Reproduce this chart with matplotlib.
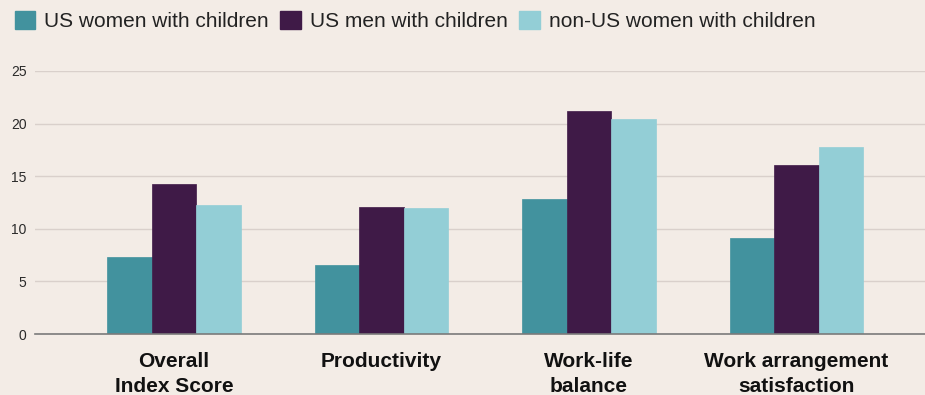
import matplotlib
matplotlib.use("Agg")
import matplotlib.pyplot as plt
import numpy as np
from matplotlib.patches import Patch

# Data
categories = ["Overall\nIndex Score", "Productivity", "Work-life\nbalance", "Work arrangement\nsatisfaction"]
series_names = ["US women with children", "US men with children", "non-US women with children"]
us_women = [7.3, 6.6, 12.8, 9.1]
us_men = [14.3, 12.1, 21.2, 16.1]
non_us_women = [12.3, 12.0, 20.4, 17.8]
yticks = [0, 5, 10, 15, 20, 25]

BG = "#F3ECE6"
COLORS = ["#42929E", "#3F1A47", "#93CED6"]

plt.rcParams['font.family'] = ['Liberation Sans', 'DejaVu Sans']

fig = plt.figure(figsize=(9.25, 3.95), dpi=100, facecolor=BG)
ax = fig.add_axes([35 / 925, 1 - 334 / 395, 890 / 925, 263 / 395])
ax.set_facecolor(BG)

x = np.arange(len(categories))
w = 0.2145
for i, (vals, col) in enumerate(zip([us_women, us_men, non_us_women], COLORS)):
    ax.bar(x + (i - 1) * w, vals, width=w, color=col, edgecolor=col, linewidth=0.5, zorder=3)

ax.set_xlim(-0.67, 3.62)
ax.set_ylim(0, 25)
ax.set_yticks(yticks)
ax.set_yticklabels([str(t) for t in yticks], fontsize=10, color="#2a2a2a")
ax.tick_params(axis='y', length=0, pad=6)
ax.grid(axis='y', color="#D9D0CB", linewidth=1, zorder=0)
ax.axhline(0, color="#7a7a7a", linewidth=1.2, zorder=4, clip_on=False)

ax.set_xticks(x)
ax.set_xticklabels(categories, fontsize=15, fontweight='bold', color="#111111",
                   linespacing=1.4)
ax.tick_params(axis='x', length=0, pad=13)

for s in ax.spines.values():
    s.set_visible(False)

handles = [Patch(facecolor=c, edgecolor=c, label=n) for c, n in zip(COLORS, series_names)]
leg = fig.legend(handles=handles, loc='upper left', bbox_to_anchor=(0.0, 1.01), ncol=3,
                 frameon=False, fontsize=15, handlelength=1.0, handleheight=1.0,
                 handletextpad=0.42, columnspacing=0.55, borderaxespad=0.3)
for t in leg.get_texts():
    t.set_color("#222222")

fig.savefig("out.png", dpi=100, facecolor=BG)
